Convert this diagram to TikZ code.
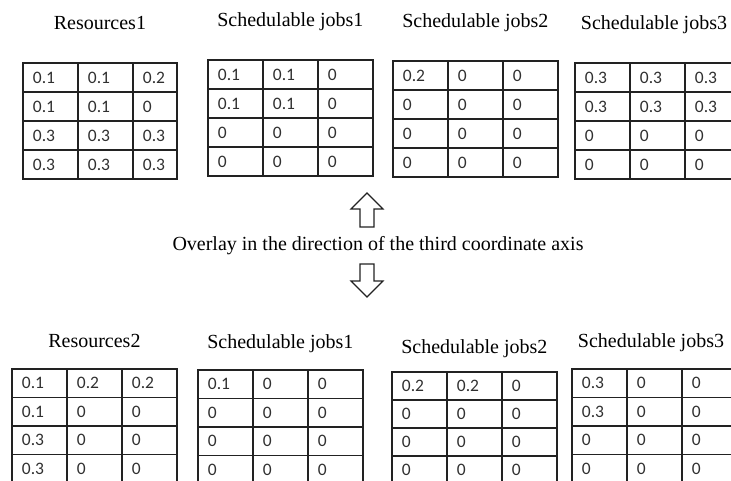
\documentclass[tikz,border=0pt]{standalone}
\usepackage{fontspec}
\setmainfont{Liberation Serif}
\newfontfamily\cellfont{Carlito}
\usepackage{tikz}
\usetikzlibrary{matrix, positioning}
\definecolor{rule}{HTML}{222222}
\definecolor{digit}{HTML}{303030}

\begin{document}
\begin{tikzpicture}[x=1pt, y=-1pt]
  \tikzstyle{cell}=[draw=rule, line width=1.4pt, minimum height=29pt,
                    text width=35pt, inner xsep=10pt, inner ysep=0pt,
                    align=left, text=digit,
                    font=\cellfont\fontsize{17.5}{17.5}\selectfont]
  \tikzstyle{grid}=[matrix of nodes, anchor=north west, inner sep=0pt,
                    column sep=-1.4pt, row sep=-1.4pt, nodes={cell}]
  \tikzstyle{low}=[nodes={minimum height=28.5pt}]
  \tikzstyle{title}=[inner sep=0pt, text height=14pt, text depth=4pt,
                     font=\fontsize{20}{20}\selectfont]
  \tikzstyle{blockarrow}=[draw=rule, line width=1.2pt, fill=white]
  \useasboundingbox (0,0) rectangle (731,481);

  % upper row
  \matrix (res1) [grid, column 3/.style={nodes={text width=24pt}}] at (22,62) {
    0.1 & 0.1 & 0.2 \\
    0.1 & 0.1 & 0 \\
    0.3 & 0.3 & 0.3 \\
    0.3 & 0.3 & 0.3 \\
  };
  \matrix (jobsA1) [grid] at (207,59) {
    0.1 & 0.1 & 0 \\
    0.1 & 0.1 & 0 \\
    0 & 0 & 0 \\
    0 & 0 & 0 \\
  };
  \matrix (jobsA2) [grid] at (392,60) {
    0.2 & 0 & 0 \\
    0 & 0 & 0 \\
    0 & 0 & 0 \\
    0 & 0 & 0 \\
  };
  \matrix (jobsA3) [grid] at (574,62) {
    0.3 & 0.3 & 0.3 \\
    0.3 & 0.3 & 0.3 \\
    0 & 0 & 0 \\
    0 & 0 & 0 \\
  };
  \node[title, above=28pt of res1] (tres1) {Resources1};
  \node[title, above=28pt of jobsA1] (tjobsA1) {Schedulable jobs1};
  \node[title, above=28pt of jobsA2] (tjobsA2) {Schedulable jobs2};
  \node[title, above=28pt of jobsA3.north west, xshift=80pt] (tjobsA3) {Schedulable jobs3};

  % arrows and caption
  \draw[blockarrow] (360,227) -- (360,209) -- (351,209) -- (367,193)
    -- (383,209) -- (374,209) -- (374,227) -- cycle;
  \node[font=\fontsize{20}{20}\selectfont, inner sep=0pt] (overlay) at (378,246)
    {Overlay in the direction of the third coordinate axis};
  \draw[blockarrow] (360,264) -- (360,281) -- (351,281) -- (367,297)
    -- (383,281) -- (374,281) -- (374,264) -- cycle;

  % lower row
  \matrix (res2) [grid, low] at (11,368) {
    0.1 & 0.2 & 0.2 \\
    0.1 & 0 & 0 \\
    0.3 & 0 & 0 \\
    0.3 & 0 & 0 \\
  };
  \matrix (jobsB1) [grid, low] at (197,369) {
    0.1 & 0 & 0 \\
    0 & 0 & 0 \\
    0 & 0 & 0 \\
    0 & 0 & 0 \\
  };
  \matrix (jobsB2) [grid, nodes={minimum height=28pt}] at (391,371) {
    0.2 & 0.2 & 0 \\
    0 & 0 & 0 \\
    0 & 0 & 0 \\
    0 & 0 & 0 \\
  };
  \matrix (jobsB3) [grid, low] at (571,368) {
    0.3 & 0 & 0 \\
    0.3 & 0 & 0 \\
    0 & 0 & 0 \\
    0 & 0 & 0 \\
  };
  \node[title, above=16pt of res2] (tres2) {Resources2};
  \node[title, above=16pt of jobsB1] (tjobsB1) {Schedulable jobs1};
  \node[title, above=13pt of jobsB2] (tjobsB2) {Schedulable jobs2};
  \node[title, above=16pt of jobsB3.north west, xshift=80pt] (tjobsB3) {Schedulable jobs3};
\end{tikzpicture}
\end{document}
